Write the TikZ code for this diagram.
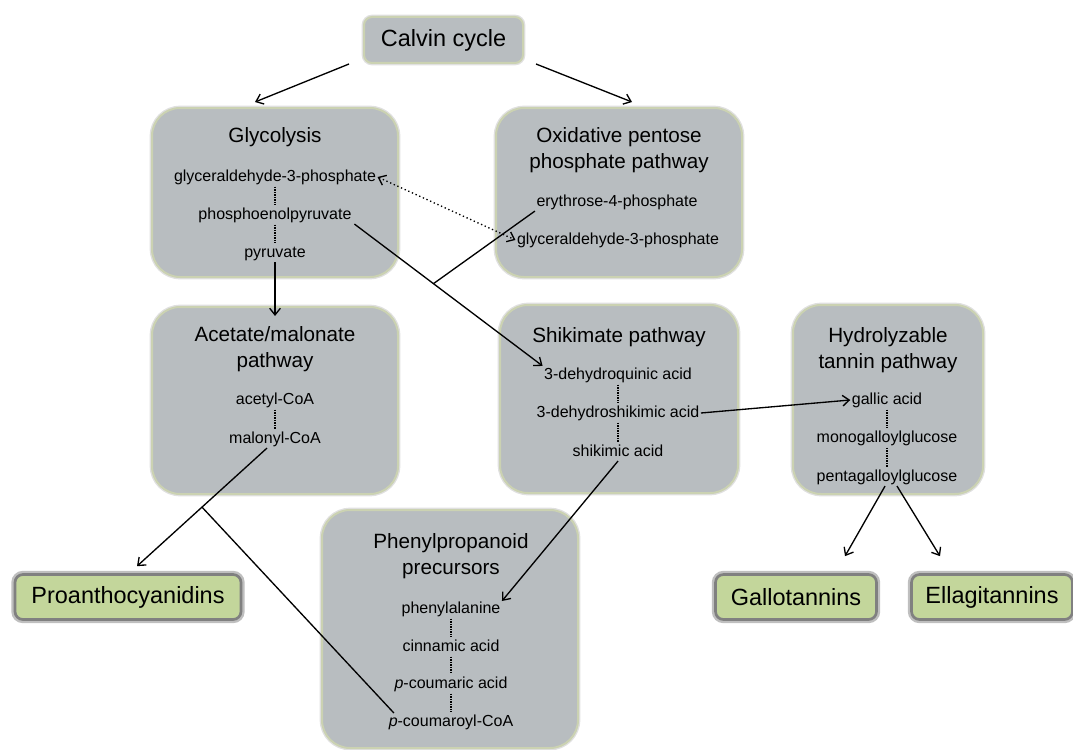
\documentclass[tikz,border=0pt]{standalone}
\usepackage{fontspec}
\setmainfont{Liberation Sans}
\usetikzlibrary{arrows.meta}

\begin{document}
\begin{tikzpicture}[x=0.75pt,y=-0.75pt,
        >={Straight Barb[length=5pt,width=8pt]},
        caja/.style={draw=borde,line width=1.5pt,fill=gris,rounded corners=21pt,inner sep=0pt,
            preaction={draw=black!12,line width=3.5pt}},
        final/.style={draw=black!50,line width=2pt,fill=verde,rounded corners=6pt,inner sep=0pt,
            preaction={draw=black!25,line width=5.5pt},font=\fontsize{17.6}{20}\selectfont},
        titulo/.style={font=\fontsize{15.5}{19.5}\selectfont,align=center},
        comp/.style={font=\fontsize{12}{14}\selectfont,inner sep=1pt,text height=8.8pt,text depth=2.4pt},
        flecha/.style={->,line width=1pt},
        linea/.style={line width=1pt},
        punteada/.style={dash pattern=on 1pt off 0.9pt,line width=1.1pt,shorten <=0.5pt,shorten >=0.5pt}]
        %colores
        \definecolor{gris}{RGB}{184,189,192}
        \definecolor{borde}{RGB}{203,210,178}
        \definecolor{verde}{RGB}{195,214,155}

        \useasboundingbox (0,0) rectangle (1073,749);

        % cajas de rutas
        \node[caja,rounded corners=6pt,minimum width=119.25pt,minimum height=34.5pt,
            font=\fontsize{17.6}{20}\selectfont] (calvin) at (443.5,40) {Calvin cycle};
        \node[caja,minimum width=184.5pt,minimum height=126.75pt] (glybox) at (275,192.5) {};
        \node[caja,minimum width=184.5pt,minimum height=126.75pt] (oppbox) at (619,192.5) {};
        \node[caja,minimum width=184.5pt,minimum height=140.25pt] (accbox) at (275,400.5) {};
        \node[caja,minimum width=178.5pt,minimum height=141pt] (shkbox) at (619,399) {};
        \node[caja,minimum width=142.5pt,minimum height=141.75pt] (hydbox) at (888,399.5) {};
        \node[caja,minimum width=192pt,minimum height=178.5pt] (phebox) at (450,629) {};

        % productos finales
        \node[final,minimum width=169.5pt,minimum height=33.75pt] (proan) at (128,597) {Proanthocyanidins};
        \node[final,minimum width=120.75pt,minimum height=33.75pt] (gallo) at (796,597) {Gallotannins};
        \node[final,minimum width=120.75pt,minimum height=33.75pt] (ellag) at (992,597) {Ellagitannins};

        % Glycolysis
        \node[titulo] (glytit) at (275,137) {Glycolysis};
        \node[comp] (g3p) at (275,177) {glyceraldehyde-3-phosphate};
        \node[comp] (pep) at (275,215) {phosphoenolpyruvate};
        \node[comp] (pyr) at (275,253) {pyruvate};

        % Oxidative pentose phosphate pathway
        \node[titulo] (opptit) at (619,150.5) {Oxidative pentose\\phosphate pathway};
        \node[comp] (e4p) at (617,202) {erythrose-4-phosphate};
        \node[comp] (g3pb) at (618,240) {glyceraldehyde-3-phosphate};

        % Acetate/malonate
        \node[titulo] (acctit) at (275,349.5) {Acetate/malonate\\pathway};
        \node[comp] (acoa) at (275,400) {acetyl-CoA};
        \node[comp] (mal) at (275,439) {malonyl-CoA};

        % Shikimate
        \node[titulo] (shktit) at (619,337) {Shikimate pathway};
        \node[comp] (dqa) at (618,375) {3-dehydroquinic acid};
        \node[comp] (dhs) at (618,413) {3-dehydroshikimic acid};
        \node[comp] (shik) at (618,452) {shikimic acid};

        % Hydrolyzable tannin
        \node[titulo] (hydtit) at (888,350) {Hydrolyzable\\tannin pathway};
        \node[comp] (gal) at (887,400) {gallic acid};
        \node[comp] (mgg) at (887,438) {monogalloylglucose};
        \node[comp] (pgg) at (887,477) {pentagalloylglucose};

        % Phenylpropanoid
        \node[titulo] (phetit) at (451,556.5) {Phenylpropanoid\\precursors};
        \node[comp] (phen) at (451,609) {phenylalanine};
        \node[comp] (cin) at (451,647) {cinnamic acid};
        \node[comp] (pca) at (451,684) {\textit{p}-coumaric acid};
        \node[comp] (pcoa) at (451,722) {\textit{p}-coumaroyl-CoA};

        % pasos internos
        \foreach \a/\b in {g3p/pep,pep/pyr,acoa/mal,dqa/dhs,dhs/shik,gal/mgg,mgg/pgg,phen/cin,cin/pca,pca/pcoa}
            \draw[punteada] (\a.south) -- (\b.north);

        % flechas
        \draw[flecha] ([xshift=-10.5pt]calvin.south west) -- ([xshift=-15pt,yshift=3.75pt]glybox.north);
        \draw[flecha] ([xshift=9pt]calvin.south east) -- ([xshift=9.75pt,yshift=3.75pt]oppbox.north);
        \draw[<->,dotted,line width=1pt] (g3p.east) -- (g3pb.west);
        \draw[flecha] ([xshift=1pt]pep.south east) -- coordinate[pos=0.42] (jn1) (dqa.north west);
        \draw[linea] (e4p.south west) -- (jn1);
        \draw[flecha] (pyr.south) -- ([yshift=-7.5pt]accbox.north);
        \draw[flecha] ([xshift=-6pt]mal.south) -- coordinate[pos=0.5] (jn2) ([xshift=6.75pt,yshift=5.25pt]proan.north);
        \draw[linea] (jn2) -- ([xshift=5pt]pcoa.north west);
        \draw[flecha] (shik.south) -- ([yshift=6pt]phen.east);
        \draw[flecha] (dhs.east) -- (gal.west);
        \draw[flecha] ([xshift=-1.5pt]pgg.south) -- ([xshift=36.75pt,yshift=12.75pt]gallo.north);
        \draw[flecha] ([xshift=7.5pt]pgg.south) -- ([xshift=-39pt,yshift=12.75pt]ellag.north);
    \end{tikzpicture}
\end{document}
